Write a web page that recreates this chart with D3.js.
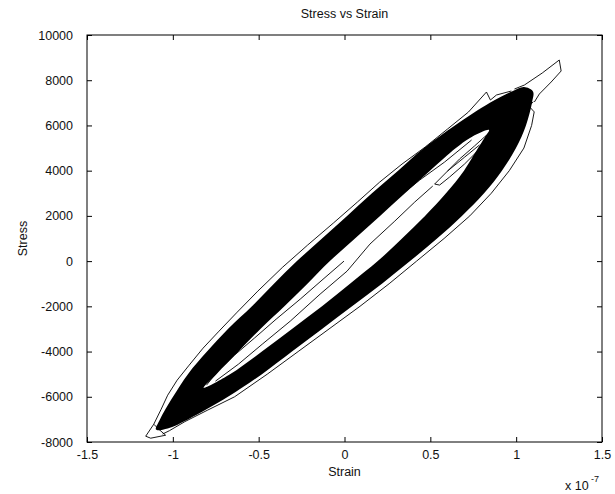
<!DOCTYPE html>
<html>
<head>
<meta charset="utf-8">
<script src="https://cdn.jsdelivr.net/npm/d3@7"></script>
<style>
  body { margin: 0; background: #fff; }
  text { font-family: Arial, "Liberation Sans", sans-serif; fill: #111; }
</style>
</head>
<body>
<div id="chart"></div>
<script>
// axis ticks (strain in units of 1e-7)
const strainTicks = [-1.5, -1, -0.5, 0, 0.5, 1, 1.5];
const stressTicks = [-8000, -6000, -4000, -2000, 0, 2000, 4000, 6000, 8000, 10000];

// solid band made by the overlapping cycles: outer edge and inner hole, [strain, stress]
const bandOuter = [
  [-1.098, -7450], [-1.075, -7000], [-0.999, -6000], [-0.912, -5000], [-0.801, -4000],
  [-0.679, -3000], [-0.539, -2000], [-0.411, -1000], [-0.277, 0], [-0.131, 1000],
  [0.015, 2000], [0.160, 3000], [0.312, 4000], [0.463, 5000], [0.643, 6000],
  [0.847, 7000], [0.975, 7500], [1.046, 7700],
  [1.098, 7500], [1.092, 7000], [1.057, 6000], [0.999, 5000], [0.917, 4000],
  [0.813, 3000], [0.684, 2000], [0.539, 1000], [0.382, 0], [0.218, -1000],
  [0.044, -2000], [-0.131, -3000], [-0.306, -4000], [-0.481, -5000], [-0.679, -6000],
  [-0.912, -7000], [-1.03, -7400]
];
const bandHole = [
  [-0.821, -5600], [-0.746, -5000], [-0.618, -4000], [-0.490, -3000], [-0.350, -2000],
  [-0.216, -1000], [-0.085, 0], [0.061, 1000], [0.207, 2000], [0.352, 3000],
  [0.498, 4000], [0.649, 5000], [0.731, 5450], [0.842, 5800],
  [0.815, 5450], [0.778, 5000], [0.696, 4000], [0.591, 3000], [0.469, 2000],
  [0.335, 1000], [0.194, 0], [0.032, -1000], [-0.131, -2000], [-0.306, -3000],
  [-0.481, -4000], [-0.667, -5000]
];

// single cycles that leave the band
const envelopeLeft = [
  [-1.129, -7832], [-1.158, -7744], [-1.111, -7213], [-1.068, -6549], [-1.030, -5930],
  [-0.975, -5266], [-0.905, -4602], [-0.824, -3850], [-0.731, -3098], [-0.625, -2257],
  [-0.505, -1328], [-0.360, -266], [-0.215, 708], [-0.065, 1682], [0.075, 2611],
  [0.205, 3496], [0.335, 4292], [0.470, 5045], [0.600, 5841], [0.722, 6593],
  [0.827, 7478], [0.850, 7124], [0.885, 7346], [0.972, 7523]
];
const tipSpike = [
  [0.990, 7611], [1.048, 7788], [1.152, 8319], [1.251, 8894], [1.262, 8408],
  [1.204, 7921], [1.135, 7390], [1.106, 7036]
];
const envelopeRight = [
  [1.10, 7050], [1.075, 6850], [1.105, 6600], [1.09, 6000], [1.045, 5000],
  [0.96, 4000], [0.855, 3000], [0.73, 2000], [0.58, 1000], [0.42, 0],
  [0.26, -1000], [0.09, -2000], [-0.09, -3000], [-0.27, -4000], [-0.45, -5000],
  [-0.64, -6000], [-0.80, -6600], [-0.93, -7100], [-1.02, -7500], [-1.06, -7650]
];
const tipNotch = [[-1.111, -7213], [-1.082, -7434], [-1.042, -7700], [-1.129, -7832]];

// traces inside the hole
const holeTraceA = [
  [-0.003, 0], [-0.131, -841], [-0.258, -1682], [-0.398, -2567],
  [-0.525, -3407], [-0.641, -4160], [-0.734, -4823], [-0.804, -5487]
];
const holeTraceB = [
  [0.514, 3319], [0.409, 2611], [0.293, 1770], [0.148, 752], [0.015, -443],
  [-0.142, -1460], [-0.316, -2655], [-0.479, -3673], [-0.618, -4558], [-0.752, -5310]
];
const holeTraceC = [[0.322, 2876], [0.438, 3584], [0.583, 4381], [0.740, 5354]];
const holeLoop = [
  [0.525, 3407], [0.583, 3850], [0.670, 4514], [0.757, 5089], [0.815, 5487],
  [0.850, 5708], [0.833, 5310], [0.775, 4868], [0.699, 4292], [0.612, 3717],
  [0.554, 3363], [0.525, 3407]
];
const holeLoopInner = [[0.600, 3983], [0.700, 4600], [0.786, 5133]];

const traces = [envelopeLeft, tipSpike, envelopeRight, tipNotch,
  holeTraceA, holeTraceB, holeTraceC, holeLoop, holeLoopInner];

const W = 615, H = 494;
const mLeft = 87, mRight = 602, mTop = 35, mBottom = 442;

const svg = d3.select("#chart").append("svg")
  .attr("width", W).attr("height", H);

const x = d3.scaleLinear().domain([-1.5, 1.5]).range([mLeft, mRight]);
const y = d3.scaleLinear().domain([-8000, 10000]).range([mBottom, mTop]);

// band
const closed = d3.line().x(d => x(d[0])).y(d => y(d[1])).curve(d3.curveCatmullRomClosed);
svg.append("path")
  .attr("d", closed(bandOuter) + closed(bandHole))
  .attr("fill", "#000")
  .attr("fill-rule", "evenodd");

// thin cycles
const open = d3.line().x(d => x(d[0])).y(d => y(d[1]));
svg.selectAll(".trace").data(traces).enter()
  .append("path")
  .attr("class", "trace")
  .attr("d", open)
  .attr("fill", "none")
  .attr("stroke", "#000")
  .attr("stroke-width", 0.9);

// axes, ticks pointing inward
const fmt = d => String(d);
const styleAxis = g => {
  g.select(".domain").remove();
  g.selectAll("line").attr("stroke", "#000");
  g.selectAll("text").attr("font-size", 12.5).attr("fill", "#111")
    .attr("font-family", "Arial, 'Liberation Sans', sans-serif");
};
svg.append("g").attr("transform", `translate(0,${mBottom})`)
  .call(d3.axisBottom(x).tickValues(strainTicks).tickSize(-5).tickPadding(8).tickFormat(fmt))
  .call(styleAxis);
svg.append("g").attr("transform", `translate(0,${mTop})`)
  .call(d3.axisTop(x).tickValues(strainTicks).tickSize(-5).tickFormat(""))
  .call(styleAxis);
svg.append("g").attr("transform", `translate(${mLeft},0)`)
  .call(d3.axisLeft(y).tickValues(stressTicks).tickSize(-5).tickPadding(14).tickFormat(fmt))
  .call(styleAxis);
svg.append("g").attr("transform", `translate(${mRight},0)`)
  .call(d3.axisRight(y).tickValues(stressTicks).tickSize(-5).tickFormat(""))
  .call(styleAxis);

svg.append("rect")
  .attr("x", mLeft).attr("y", mTop)
  .attr("width", mRight - mLeft).attr("height", mBottom - mTop)
  .attr("fill", "none").attr("stroke", "#000").attr("stroke-width", 1);

// labels
svg.append("text").attr("x", (mLeft + mRight) / 2).attr("y", 18)
  .attr("text-anchor", "middle").attr("font-size", 12.5).text("Stress vs Strain");
svg.append("text").attr("x", (mLeft + mRight) / 2).attr("y", 476)
  .attr("text-anchor", "middle").attr("font-size", 12.5).text("Strain");
svg.append("text").attr("transform", `translate(27,${(mTop + mBottom) / 2}) rotate(-90)`)
  .attr("text-anchor", "middle").attr("font-size", 12.5).text("Stress");
svg.append("text").attr("x", 565).attr("y", 490).attr("font-size", 12.5).text("x 10");
svg.append("text").attr("x", 591).attr("y", 482).attr("font-size", 9).text("-7");
</script>
</body>
</html>
